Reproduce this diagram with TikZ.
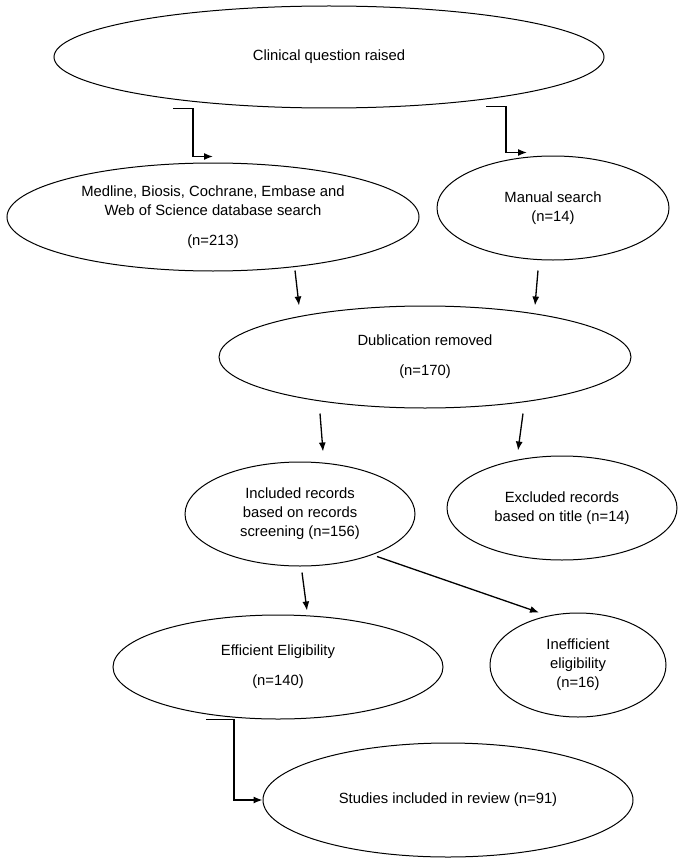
\documentclass[tikz,border=0pt]{standalone}
\usepackage{fontspec}
\setmainfont{Liberation Sans}
\usepackage{tikz}
\usetikzlibrary{arrows.meta, shapes.geometric}

\begin{document}
\begin{tikzpicture}[
  x=1pt, y=-1pt,
  oval/.style={draw, ellipse, line width=1pt, inner sep=0pt, align=center,
               font=\fontsize{14.8}{19}\selectfont},
  arr/.style={-{Latex[length=9pt, width=7pt]}, line width=1.3pt},
]
\useasboundingbox (0,0) rectangle (679,864);

% --- Stage 1 ---
\node[oval, minimum width=550pt, minimum height=102pt] (question) at (329, 57)
  {Clinical question raised};

% --- Stage 2 ---
\node[oval, minimum width=412pt, minimum height=108pt] (database) at (213, 217)
  {Medline, Biosis, Cochrane, Embase and\\
   Web of Science database search\\[11pt] (n=213)};
\node[oval, minimum width=232pt, minimum height=104pt] (manual) at (553, 208)
  {Manual search\\(n=14)};

% --- Stage 3 ---
\node[oval, minimum width=412pt, minimum height=102pt] (dublication) at (425, 357)
  {Dublication removed\\[11pt] (n=170)};

% --- Stage 4 ---
\node[oval, minimum width=230pt, minimum height=104pt] (included) at (300, 514)
  {Included records\\based on records\\screening (n=156)};
\node[oval, minimum width=230pt, minimum height=104pt] (excluded) at (562, 508)
  {Excluded records\\based on title (n=14)};

% --- Stage 5 ---
\node[oval, minimum width=330pt, minimum height=104pt] (efficient) at (278, 667)
  {Efficient Eligibility\\[11pt] (n=140)};
\node[oval, minimum width=176pt, minimum height=104pt] (inefficient) at (578, 665)
  {Inefficient\\eligibility\\(n=16)};

% --- Stage 6 ---
\node[oval, minimum width=370pt, minimum height=114pt] (studies) at (448, 800)
  {Studies included in review (n=91)};

% --- Flow arrows ---
\draw[arr] ([xshift=-156pt]question.south) -- ++(20,0)
  |- ([yshift=6pt]database.north);
\draw[arr] ([xshift=157pt,yshift=2pt]question.south) -- ++(20,0)
  |- ([xshift=-26pt,yshift=3pt]manual.north);
\draw[arr] ([xshift=82pt,yshift=1pt]database.south)
  -- ([xshift=-126pt]dublication.north);
\draw[arr] ([xshift=-15pt,yshift=-10pt]manual.south)
  -- ([xshift=110pt]dublication.north);
\draw[arr] ([xshift=-105pt,yshift=-5pt]dublication.south)
  -- ([xshift=23pt,yshift=10pt]included.north);
\draw[arr] ([xshift=98pt,yshift=-5pt]dublication.south)
  -- ([xshift=-44pt,yshift=5pt]excluded.north);
\draw[arr] ([xshift=2pt,yshift=-6pt]included.south)
  -- ([xshift=29pt,yshift=4pt]efficient.north);
\draw[arr] ([xshift=77pt,yshift=10pt]included.south)
  -- ([xshift=-39pt]inefficient.north);
\draw[arr] ([xshift=-72pt]efficient.south) -- ++(28,0) |- (studies.west);

\end{tikzpicture}
\end{document}
